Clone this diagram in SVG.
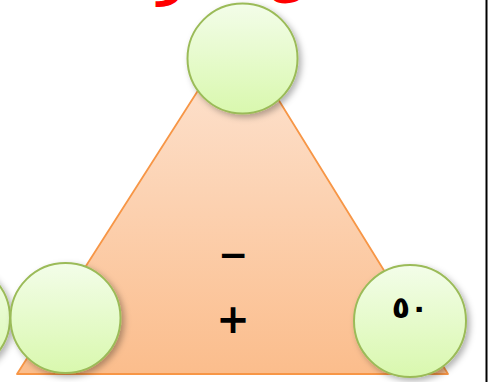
<svg xmlns="http://www.w3.org/2000/svg" width="488" height="382" viewBox="0 0 488 382">
<defs>
<linearGradient id="tri" x1="0" y1="0" x2="0" y2="1">
<stop offset="0" stop-color="#fde6d6"/>
<stop offset="1" stop-color="#fbbd8c"/>
</linearGradient>
<linearGradient id="circ" x1="0" y1="0" x2="0" y2="1">
<stop offset="0" stop-color="#f3fde9"/>
<stop offset="1" stop-color="#d9f8ae"/>
</linearGradient>
<filter id="sh" x="-30%" y="-30%" width="160%" height="160%">
<feDropShadow dx="3" dy="3" stdDeviation="3" flood-color="#000" flood-opacity="0.3"/>
</filter>
<style>
.node circle{fill:url(#circ);stroke:#9bbb59;stroke-width:2;filter:url(#sh)}
.sym{font-family:"DejaVu Sans","Liberation Sans",sans-serif;font-weight:bold;fill:#000;text-anchor:middle}
</style>
</defs>
<rect width="488" height="382" fill="#fff"/>
<text x="150" y="-4" font-family="'DejaVu Sans','Noto Sans',sans-serif" font-size="46" font-weight="bold" fill="#f00" text-anchor="middle" direction="rtl">أكمل الفراغات في (</text>
<g id="triangle">
<polygon points="236,31 448,374 17,374" fill="url(#tri)" stroke="#f79646" stroke-width="1.8" stroke-linejoin="round"/>
<text class="sym" x="233" y="267" font-size="36">−</text>
<text class="sym" x="233" y="333" font-size="40">+</text>
</g>
<g id="connectors"></g>
<g id="node-edge" class="node"><circle cx="-45" cy="318" r="55"/></g>
<g id="node-top" class="node"><circle cx="242.5" cy="58.5" r="55"/></g>
<g id="node-left" class="node"><circle cx="65.5" cy="318" r="55"/></g>
<g id="node-right" class="node"><circle cx="410" cy="321" r="56"/>
<text x="410" y="318" font-family="'DejaVu Sans','Noto Sans',sans-serif" font-size="30" font-weight="bold" fill="#000" text-anchor="middle">٥٠</text>
</g>
<rect x="485.5" y="0" width="2" height="382" fill="#000"/>
</svg>
